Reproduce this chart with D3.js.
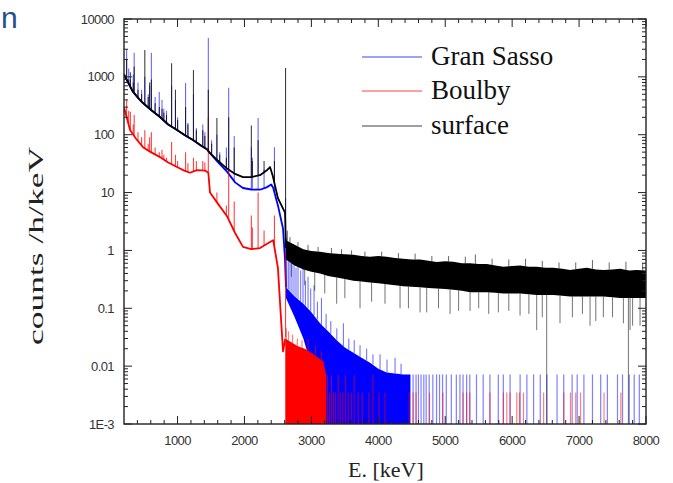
<!DOCTYPE html>
<html>
<head>
<meta charset="utf-8">
<script src="https://cdn.jsdelivr.net/npm/d3@7"></script>
<style>
  html, body { margin: 0; padding: 0; background: #fff; }
  svg { display: block; }
</style>
</head>
<body>
<svg id="chart" width="673" height="483"></svg>
<script>
(function () {
    'use strict';

    // ---- data ----
    const seriesNames = ['Gran Sasso', 'Boulby', 'surface'];
    const seriesColors = ['#0000ff', '#ff0000', '#000000'];

    const xTicks = [1000, 2000, 3000, 4000, 5000, 6000, 7000, 8000];
    const yTicks = [1e4, 1e3, 1e2, 10, 1, 0.1, 0.01, 1e-3];
    const yTickLabels = ['10000', '1000', '100', '10', '1', '0.1', '0.01', '1E-3'];

    // gamma lines (keV) and peak heights for each site
    const lineE    = [186, 239, 270, 295, 338, 352, 409, 463, 511, 562, 583, 609, 665, 727, 768, 795, 835, 911, 969, 1001,
                      1120, 1155, 1238, 1281, 1377, 1408, 1460, 1509, 1588, 1630, 1730, 1764, 1847, 2103, 2118, 2204, 2293, 2448, 2614];
    const gsPeak   = [2000, 3000, 1400, 900, 1100, 2600, 800, 600, 1000, 500, 700, 2600, 450, 550, 400, 280, 260, 700, 400, 200,
                      780, 160, 500, 130, 150, 110, 4700, 80, 100, 50, 60, 650, 95, 60, 40, 195, 25, 61, 8];
    const bouPeak  = [450, 400, 260, 250, 150, 220, 110, 90, 120, 70, 90, 110, 60, 50, 55, 45, 40, 75, 45, 35,
                      50, 32, 40, 35, 35, 33, 200, 9, 10, 6, 6, 25, 7, 4, 2.5, 10, 2.2, 4, 1];
    const surfPeak = [1500, 2000, 900, 1200, 800, 1500, 600, 500, 2900, 450, 800, 900, 350, 300, 280, 240, 220, 1720, 600, 180,
                      300, 150, 1310, 120, 120, 95, 600, 70, 195, 45, 40, 200, 60, 145, 35, 80, 35, 35, 1420];

    // continuum [E, counts/h/keV]
    const gsCont = [[200, 1100], [260, 800], [330, 560], [420, 420], [484, 353], [600, 270], [738, 202], [860, 150],
        [992, 121], [1110, 98], [1231, 81], [1360, 64], [1440, 56], [1485, 48], [1600, 34], [1739, 23], [1860, 15],
        [1978, 12], [2100, 11.3], [2232, 11.2], [2330, 12.3], [2400, 13.8], [2430, 12], [2500, 6], [2576, 2.4],
        [2606, 0.7], [2620, 0.23]];
    const bouCont = [[200, 300], [240, 200], [290, 121], [380, 85], [484, 61], [600, 50], [738, 41], [860, 33],
        [992, 27.6], [1100, 24], [1186, 22], [1290, 24.5], [1410, 24], [1460, 22], [1485, 10], [1600, 6.5],
        [1739, 3.9], [1860, 2], [1978, 1.15], [2100, 1.05], [2232, 1.1], [2382, 1.4], [2430, 1.5], [2500, 0.5],
        [2576, 0.018], [2610, 0.03]];
    const surfCont = [[200, 1100], [260, 800], [330, 560], [420, 420], [484, 353], [600, 270], [738, 202], [860, 150],
        [992, 121], [1110, 98], [1231, 81], [1360, 64], [1440, 56], [1485, 48], [1600, 36], [1739, 26], [1860, 21],
        [1978, 18.5], [2100, 18.5], [2232, 20], [2330, 24], [2382, 27.6], [2420, 20], [2500, 8], [2606, 4.5],
        [2620, 1.1]];

    // dense noisy region above 2614 keV: [E, low edge, high edge]
    const gsBand = [[2620, 0.15, 0.23], [2750, 0.07, 0.16], [2880, 0.03, 0.12], [3000, 0.01, 0.085], [3129, 0.003, 0.055],
        [3180, 0.001, 0.048], [3250, 0.001, 0.04], [3378, 0.001, 0.028], [3500, 0.001, 0.021], [3627, 0.001, 0.017],
        [3750, 0.001, 0.014], [3876, 0.001, 0.0115], [4000, 0.001, 0.009], [4125, 0.001, 0.0078], [4374, 0.001, 0.0072],
        [4480, 0.001, 0.0072]];
    const bouBand = [[2610, 0.001, 0.03], [2700, 0.001, 0.026], [2800, 0.001, 0.022], [2900, 0.001, 0.02],
        [3000, 0.001, 0.017], [3100, 0.001, 0.014], [3180, 0.001, 0.012], [3220, 0.001, 0.007]];
    const surfBand = [[2620, 0.7, 1.5], [2750, 0.55, 1.25], [2880, 0.47, 1.05], [3000, 0.43, 0.98], [3129, 0.4, 0.95],
        [3250, 0.36, 0.9], [3378, 0.34, 0.88], [3500, 0.32, 0.86], [3627, 0.3, 0.84], [3750, 0.29, 0.8],
        [3876, 0.28, 0.78], [4000, 0.27, 0.8], [4125, 0.26, 0.78], [4250, 0.25, 0.74], [4374, 0.24, 0.72],
        [4500, 0.235, 0.7], [4623, 0.23, 0.7], [4750, 0.225, 0.66], [4872, 0.22, 0.63], [5000, 0.215, 0.65],
        [5121, 0.21, 0.64], [5250, 0.2, 0.6], [5371, 0.19, 0.6], [5500, 0.19, 0.58], [5620, 0.19, 0.58],
        [5750, 0.185, 0.55], [5869, 0.18, 0.52], [6000, 0.18, 0.54], [6118, 0.18, 0.55], [6250, 0.175, 0.52],
        [6367, 0.17, 0.52], [6500, 0.17, 0.5], [6616, 0.17, 0.5], [6750, 0.165, 0.48], [6865, 0.16, 0.46],
        [7000, 0.16, 0.48], [7114, 0.16, 0.5], [7250, 0.16, 0.47], [7363, 0.16, 0.46], [7500, 0.155, 0.47],
        [7612, 0.15, 0.48], [7750, 0.15, 0.45], [7861, 0.15, 0.46], [8000, 0.15, 0.45]];

    // single spikes sticking out of the bands
    const gsUps = [[2630, 1.6], [2655, 0.9], [2680, 1.1], [2710, 0.7], [2740, 0.85], [2770, 0.5], [2800, 0.6],
        [2840, 0.45], [2875, 0.55], [2910, 0.3], [2950, 0.35], [2990, 0.22], [3040, 0.25], [3090, 0.13], [3150, 0.15],
        [3220, 0.08], [3290, 0.06], [3380, 0.045], [3478, 0.055], [3560, 0.03], [3640, 0.028], [3727, 0.023],
        [3826, 0.02], [3920, 0.016], [4026, 0.016], [4130, 0.013], [4250, 0.014], [4340, 0.011]];
    const gsSparse = [[4520, 0.0072], [4564, 0.0072], [4600, 0.0072], [4639, 0.0072], [4680, 0.0072], [4715, 0.0072],
        [4760, 0.0072], [4815, 0.0072], [4870, 0.0072], [4915, 0.0072], [4960, 0.0072], [5016, 0.0072], [5091, 0.0072],
        [5166, 0.0072], [5220, 0.0072], [5266, 0.0072], [5320, 0.0072], [5367, 0.0072], [5467, 0.0072], [5567, 0.0072],
        [5668, 0.0072], [5793, 0.0072], [5868, 0.0072], [5969, 0.0072], [6119, 0.0072], [6220, 0.0072], [6320, 0.0072],
        [6420, 0.0072], [6520, 0.0072], [6671, 0.0072], [6771, 0.0072], [6896, 0.0072], [6972, 0.0072], [7072, 0.0072],
        [7200, 0.0072], [7323, 0.0072], [7423, 0.0072], [7574, 0.0072], [7649, 0.0072], [7750, 0.0072], [7824, 0.0072],
        [7900, 0.0072]];
    const bouUps = [[2625, 0.045], [2660, 0.04], [2720, 0.035], [2790, 0.03], [2860, 0.028], [2950, 0.03],
        [3060, 0.022], [3150, 0.018]];
    const bouSparse = [[3240, 0.007], [3270, 0.0035], [3300, 0.007], [3330, 0.0035], [3360, 0.0035], [3400, 0.007],
        [3430, 0.0035], [3470, 0.0035], [3510, 0.007], [3550, 0.0035], [3600, 0.0035], [3640, 0.007], [3700, 0.0035],
        [3760, 0.0035], [3860, 0.0035], [3920, 0.007], [4010, 0.0035], [4100, 0.0035], [4460, 0.0035], [4520, 0.0035],
        [4564, 0.0035], [4765, 0.0035], [4965, 0.0035], [5266, 0.0035], [5320, 0.0035], [5367, 0.0035], [5668, 0.0035],
        [5868, 0.0035], [5920, 0.0035], [5969, 0.0035], [6069, 0.0035], [6110, 0.0035], [6169, 0.0035], [6470, 0.0035],
        [6771, 0.0035], [6871, 0.0035], [6950, 0.0035], [7022, 0.0035], [7373, 0.0035], [7624, 0.0035]];
    const surfUps = [[2640, 2.2], [2680, 1.7], [2800, 1.4], [2950, 1.25], [3100, 1.15], [3300, 1.1], [3450, 1.05],
        [3600, 1.0], [3800, 0.95], [4050, 0.95], [4300, 0.9], [4550, 0.88], [4800, 0.8], [5050, 0.8], [5300, 0.78],
        [5450, 0.85], [5700, 0.72], [5950, 0.7], [6200, 0.72], [6450, 0.66], [6700, 0.62], [6950, 0.62], [7200, 0.68],
        [7450, 0.62], [7700, 0.64], [7950, 0.6]];
    const surfDips = [[2700, 0.35], [2900, 0.25], [3050, 0.2], [3200, 0.18], [3378, 0.12], [3500, 0.15], [3727, 0.1],
        [3900, 0.13], [4100, 0.12], [4325, 0.1], [4450, 0.1], [4624, 0.085], [4723, 0.085], [4900, 0.1], [5072, 0.08],
        [5200, 0.09], [5371, 0.09], [5500, 0.1], [5650, 0.08], [5794, 0.085], [5950, 0.09], [6118, 0.075], [6250, 0.08],
        [6367, 0.042], [6450, 0.07], [6516, 0.001], [6715, 0.055], [6900, 0.07], [7050, 0.08], [7164, 0.05],
        [7250, 0.06], [7363, 0.07], [7500, 0.07], [7662, 0.055], [7737, 0.001], [7762, 0.042], [7800, 0.05],
        [7911, 0.05]];

    // ---- layout ----
    const svg = d3.select('#chart');
    const left = 124, right = 646, top = 19, bottom = 424;

    const x = d3.scaleLinear().domain([200, 8000]).range([left, right]);
    const y = d3.scaleLog().domain([1e-3, 1e4]).range([bottom, top]).clamp(true);

    const defs = svg.append('defs');
    defs.append('filter').attr('id', 'soft')
        .append('feGaussianBlur').attr('stdDeviation', 0.45);
    defs.append('clipPath').attr('id', 'clip')
        .append('rect').attr('x', left).attr('y', top).attr('width', right - left).attr('height', bottom - top);

    // end of the slide title, top-left corner
    svg.append('text')
        .attr('x', 1).attr('y', 28)
        .attr('font-family', 'Liberation Sans, Arial, sans-serif')
        .attr('font-size', 30)
        .attr('fill', '#1f4f8f')
        .text('n');

    const plot = svg.append('g');
    const g = plot.append('g').attr('clip-path', 'url(#clip)')
        .append('g').attr('filter', 'url(#soft)');

    const line = d3.line().x(d => x(d[0])).y(d => y(d[1]));
    const area = d3.area().x(d => x(d[0])).y0(d => y(d[1])).y1(d => y(d[2]));

    function spikes(layer, data, base, color, opacity, width) {
        layer.append('g')
            .selectAll('line')
            .data(data)
            .join('line')
            .attr('x1', d => x(d[0])).attr('x2', d => x(d[0]))
            .attr('y1', d => y(base(d)))
            .attr('y2', d => y(d[1]))
            .attr('stroke', color)
            .attr('stroke-opacity', opacity)
            .attr('stroke-width', width);
    }

    function drawSeries(cont, peaks, band, ups, sparse, color, peakOpacity) {
        const layer = g.append('g');
        const baseLin = d3.scaleLinear().domain(cont.map(d => d[0])).range(cont.map(d => d[1]));
        const bandHi = d3.scaleLinear().domain(band.map(d => d[0])).range(band.map(d => d[2])).clamp(true);

        layer.append('path')
            .datum(band)
            .attr('d', area)
            .attr('fill', color);

        spikes(layer, ups, d => bandHi(d[0]), color, 0.6, 1);
        if (sparse) spikes(layer, sparse, () => 1e-3, color, 0.5, 1.2);

        const peakData = lineE.map((e, i) => [e, peaks[i]]);
        spikes(layer, peakData, d => baseLin(d[0]), color, peakOpacity, 1.1);

        layer.append('path')
            .datum(cont)
            .attr('d', line)
            .attr('fill', 'none')
            .attr('stroke', color)
            .attr('stroke-width', 1.8)
            .attr('stroke-linejoin', 'round');
        return layer;
    }

    drawSeries(gsCont, gsPeak, gsBand, gsUps, gsSparse, seriesColors[0], 0.6);
    drawSeries(bouCont, bouPeak, bouBand, bouUps, bouSparse, seriesColors[1], 0.75);
    const surfLayer = drawSeries(surfCont, surfPeak, surfBand, surfUps, null, seriesColors[2], 0.75);

    const surfLo = d3.scaleLinear().domain(surfBand.map(d => d[0])).range(surfBand.map(d => d[1])).clamp(true);
    spikes(surfLayer, surfDips, d => surfLo(d[0]), '#000', 0.55, 1);

    // ---- frame and ticks ----
    const axis = plot.append('g').attr('stroke', '#222').attr('fill', 'none');
    axis.append('rect')
        .attr('x', left).attr('y', top).attr('width', right - left).attr('height', bottom - top)
        .attr('stroke-width', 1.4);

    const xMinor = d3.range(400, 8000, 200).filter(v => v % 1000 !== 0);
    [[xTicks, 8], [xMinor, 4]].forEach(([vals, len]) => {
        vals.forEach(v => {
            axis.append('line').attr('x1', x(v)).attr('x2', x(v)).attr('y1', bottom).attr('y2', bottom - len);
            axis.append('line').attr('x1', x(v)).attr('x2', x(v)).attr('y1', top).attr('y2', top + len);
        });
    });

    const yMinor = [];
    yTicks.slice(1).forEach(dec => { for (let k = 2; k <= 9; k++) yMinor.push(dec * k); });
    [[yTicks, 8], [yMinor, 4]].forEach(([vals, len]) => {
        vals.forEach(v => {
            axis.append('line').attr('x1', left).attr('x2', left + len).attr('y1', y(v)).attr('y2', y(v));
            axis.append('line').attr('x1', right).attr('x2', right - len).attr('y1', y(v)).attr('y2', y(v));
        });
    });

    // tick labels
    const labels = plot.append('g')
        .attr('font-family', 'Liberation Sans, Arial, sans-serif')
        .attr('font-size', 13)
        .attr('fill', '#333')
        .attr('letter-spacing', -0.6);

    labels.selectAll('.xl')
        .data(xTicks)
        .join('text')
        .attr('x', d => x(d)).attr('y', 445)
        .attr('text-anchor', 'middle')
        .text(d => d);

    labels.selectAll('.yl')
        .data(yTicks)
        .join('text')
        .attr('x', 114).attr('y', d => y(d) + 4.5)
        .attr('text-anchor', 'end')
        .text((d, i) => yTickLabels[i]);

    // axis titles
    plot.append('text')
        .attr('x', 348).attr('y', 477)
        .attr('font-family', 'Liberation Serif, Times New Roman, serif')
        .attr('font-size', 22)
        .attr('fill', '#222')
        .text('E. [keV]');

    plot.append('text')
        .attr('transform', 'translate(43,345) rotate(-90)')
        .attr('font-family', 'Liberation Serif, Times New Roman, serif')
        .attr('font-size', 21)
        .attr('fill', '#222')
        .attr('textLength', 198)
        .attr('lengthAdjust', 'spacingAndGlyphs')
        .text('counts /h/keV');

    // legend
    const legendY = [57, 91, 126];
    const legend = plot.append('g');
    seriesNames.forEach((name, i) => {
        legend.append('line')
            .attr('x1', 362).attr('x2', 422)
            .attr('y1', legendY[i]).attr('y2', legendY[i])
            .attr('stroke', seriesColors[i])
            .attr('stroke-opacity', 0.5)
            .attr('stroke-width', 1.5);
        legend.append('text')
            .attr('x', 431).attr('y', legendY[i] + 8)
            .attr('font-family', 'Liberation Serif, Times New Roman, serif')
            .attr('font-size', 27)
            .attr('fill', '#111')
            .text(name);
    });
})();
</script>
</body>
</html>
